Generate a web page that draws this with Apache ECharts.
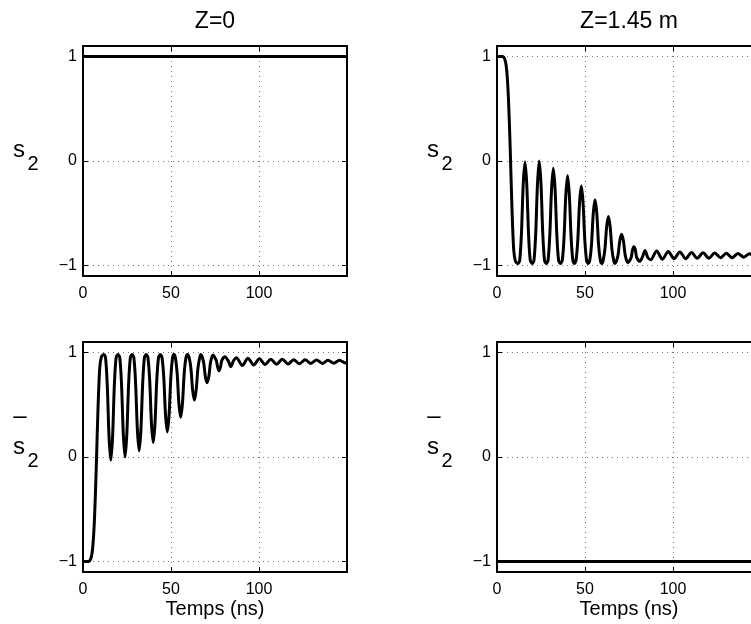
<!DOCTYPE html>
<html><head><meta charset="utf-8">
<script src="https://cdn.jsdelivr.net/npm/echarts@6/dist/echarts.min.js"></script>
<style>html,body{margin:0;padding:0;background:#fff}#c{width:751px;height:624px}</style>
</head><body><div id="c"></div>
<script>
// ---- data ----
const xTicks = [0, 50, 100];
const yTicks = [-1, 0, 1];
const titles = ['Z=0', 'Z=1.45 m'];
const xLabel = 'Temps (ns)';

// top-left : s2 at Z=0
const tTopLeft = [0, 150];
const s2TopLeft = [1, 1];

// top-right : s2 at Z=1.45 m
const tTopRight = [0, 3, 4.5, 5.5, 6.5, 7.5, 8.5, 9.5, 10.5, 11.9,
  12.9, 13.9, 14.9, 15.9, 16.9, 17.9, 18.9, 20.0,
  21.0, 22.0, 23.0, 24.0, 25.0, 26.0, 27.0, 28.0,
  29.0, 30.0, 31.0, 32.0, 33.0, 34.0, 35.0, 36.05,
  37.1, 38.1, 39.1, 40.1, 41.1, 42.1, 43.1, 44.0,
  44.9, 45.9, 46.9, 47.9, 48.9, 49.9, 50.9, 51.8,
  52.7, 53.7, 54.7, 55.7, 56.7, 57.7, 58.7, 59.5,
  60.3, 61.3, 62.3, 63.3, 64.3, 65.3, 66.3, 67.05,
  67.8, 68.8, 69.8, 70.8, 71.8, 72.8, 73.8, 74.3,
  75.3, 76.3, 77.0, 77.8, 78.6, 79.3, 80.3, 81.0,
  82.6, 84.1, 85.6, 87.4,
  90.7, 94.0, 97.3, 100.6, 103.9, 107.2, 110.5, 113.8, 117.1, 120.4,
  123.7, 127.0, 130.3, 133.6, 136.9, 140.2, 143.5, 146.8, 150];
const s2TopRight = [1.0, 1.0, 0.97, 0.87, 0.6, 0.12, -0.45, -0.85, -0.96, -0.98,
  -0.95, -0.69, -0.22, -0.01, -0.22, -0.69, -0.95, -0.98,
  -0.95, -0.69, -0.22, 0.0, -0.22, -0.69, -0.95, -0.98,
  -0.95, -0.707, -0.27, -0.07, -0.27, -0.707, -0.95, -0.98,
  -0.95, -0.728, -0.325, -0.14, -0.325, -0.728, -0.95, -0.98,
  -0.95, -0.758, -0.40, -0.24, -0.40, -0.758, -0.95, -0.98,
  -0.95, -0.797, -0.50, -0.37, -0.50, -0.797, -0.95, -0.98,
  -0.95, -0.845, -0.63, -0.53, -0.63, -0.845, -0.95, -0.98,
  -0.96, -0.896, -0.76, -0.70, -0.76, -0.896, -0.96, -0.97,
  -0.955, -0.92, -0.85, -0.82, -0.85, -0.92, -0.95, -0.96,
  -0.92, -0.855, -0.92, -0.945,
  -0.86, -0.94, -0.865, -0.935, -0.87, -0.935, -0.875, -0.93, -0.878, -0.93,
  -0.88, -0.925, -0.882, -0.925, -0.885, -0.92, -0.886, -0.92, -0.89];

// bottom-left : s2-bar at Z=0
const tBottomLeft = [0, 3, 4.5, 5.5, 6.5, 7.5, 8.5, 9.5, 10.5, 11.8,
  12.8, 13.8, 14.8, 15.8, 16.8, 17.8, 18.8, 19.85,
  20.9, 21.9, 22.9, 23.9, 24.9, 25.9, 26.9, 27.9,
  28.9, 29.9, 30.9, 31.9, 32.9, 33.9, 34.9, 35.9,
  36.9, 37.9, 38.9, 39.9, 40.9, 41.9, 42.9, 43.9,
  44.9, 45.9, 46.9, 47.9, 48.9, 49.9, 50.9, 51.7,
  52.5, 53.5, 54.5, 55.5, 56.5, 57.5, 58.5, 59.4,
  60.3, 61.3, 62.3, 63.3, 64.3, 65.3, 66.3, 66.9,
  67.7, 68.6, 69.5, 70.5, 71.5, 72.4, 73.3, 73.9,
  74.8, 75.8, 76.5, 77.3, 78.1, 78.8, 79.8, 80.6,
  82.5, 84.0, 85.5, 87.2,
  90.5, 93.7, 97.0, 100.2, 103.5, 106.7, 110.0, 113.2, 116.5, 119.7,
  123.0, 126.2, 129.5, 132.7, 136.0, 139.2, 142.5, 145.7, 149.0, 150];
const s2barBottomLeft = [-1.0, -1.0, -0.97, -0.87, -0.6, -0.12, 0.45, 0.85, 0.96, 0.98,
  0.95, 0.68, 0.19, -0.03, 0.19, 0.68, 0.95, 0.98,
  0.95, 0.69, 0.22, 0.0, 0.22, 0.69, 0.95, 0.98,
  0.95, 0.70, 0.26, 0.06, 0.26, 0.70, 0.95, 0.98,
  0.95, 0.73, 0.32, 0.14, 0.32, 0.73, 0.95, 0.98,
  0.95, 0.76, 0.40, 0.24, 0.40, 0.76, 0.95, 0.98,
  0.95, 0.80, 0.51, 0.38, 0.51, 0.80, 0.95, 0.98,
  0.95, 0.85, 0.64, 0.545, 0.64, 0.85, 0.95, 0.98,
  0.96, 0.90, 0.77, 0.71, 0.77, 0.90, 0.96, 0.975,
  0.955, 0.92, 0.86, 0.826, 0.86, 0.92, 0.95, 0.96,
  0.92, 0.864, 0.92, 0.95,
  0.875, 0.945, 0.88, 0.94, 0.885, 0.935, 0.888, 0.935, 0.89, 0.93,
  0.892, 0.93, 0.895, 0.928, 0.895, 0.925, 0.897, 0.925, 0.9, 0.905];

// bottom-right : s2-bar at Z=1.45 m
const tBottomRight = [0, 150];
const s2barBottomRight = [-1, -1];

// ---- layout ----
const FONT = '"Liberation Sans", Arial, Helvetica, sans-serif';
const grids = [
  {left: 83, top: 46, width: 264, height: 230, outerBoundsMode: 'none'},
  {left: 497, top: 46, width: 264, height: 230, outerBoundsMode: 'none'},
  {left: 83, top: 342, width: 264, height: 230, outerBoundsMode: 'none'},
  {left: 497, top: 342, width: 264, height: 230, outerBoundsMode: 'none'}
];
const fmtNum = v => String(v).replace('-', '\u2212');

const xAxes = [], yAxes = [];
grids.forEach((g, gi) => {
  ['bottom', 'top'].forEach(pos => {
    const main = pos === 'bottom';
    xAxes.push({
      type: 'value', gridIndex: gi, position: pos, min: 0, max: 150, interval: 50,
      axisLine: {show: true, onZero: false, lineStyle: {color: '#000', width: 2}},
      axisTick: {show: true, inside: true, length: 5, lineStyle: {color: '#000', width: 1}},
      axisLabel: {show: main, margin: 10, fontSize: 16, color: '#000', fontFamily: FONT,
        formatter: v => xTicks.includes(v) ? fmtNum(v) : ''},
      splitLine: {show: main, lineStyle: {color: '#777', type: [1, 4], width: 1}}
    });
  });
  ['left', 'right'].forEach(pos => {
    const main = pos === 'left';
    yAxes.push({
      type: 'value', gridIndex: gi, position: pos, min: -1.1, max: 1.1,
      axisLine: {show: true, onZero: false, lineStyle: {color: '#000', width: 2}},
      axisTick: {show: true, inside: true, length: 5, customValues: yTicks, lineStyle: {color: '#000', width: 1}},
      axisLabel: {show: main, margin: 6, fontSize: 16, color: '#000', fontFamily: FONT,
        customValues: yTicks, formatter: fmtNum},
      splitLine: {show: main, lineStyle: {color: '#777', type: [1, 4], width: 1}}
    });
  });
});

const zip = (t, v) => t.map((x, i) => [x, v[i]]);
const seriesData = [
  zip(tTopLeft, s2TopLeft),
  zip(tTopRight, s2TopRight),
  zip(tBottomLeft, s2barBottomLeft),
  zip(tBottomRight, s2barBottomRight)
];
const series = seriesData.map((d, gi) => ({
  type: 'line', xAxisIndex: gi * 2, yAxisIndex: gi * 2, data: d,
  showSymbol: false, smooth: 0.3, animation: false,
  lineStyle: {color: '#000', width: 3}, z: 3
}));

const txt = (text, x, y, size) => ({
  type: 'text', x: x, y: y, z: 10,
  style: {text: text, fontSize: size, fontFamily: FONT, fill: '#000', align: 'center', verticalAlign: 'middle'}
});
const graphic = [
  txt(titles[0], 215, 22, 23),
  txt(titles[1], 629, 22, 23),
  txt(xLabel, 215, 609, 20),
  txt(xLabel, 629, 609, 20)
];
[[0, 150], [414, 150]].forEach(([dx, cy]) => {
  graphic.push(txt('s', 19 + dx, cy, 24));
  graphic.push(txt('2', 33 + dx, cy + 14, 20));
});
[[0, 447], [414, 447]].forEach(([dx, cy]) => {
  graphic.push(txt('\u2013', 20 + dx, 416, 24));
  graphic.push(txt('s', 19 + dx, cy, 24));
  graphic.push(txt('2', 33 + dx, cy + 14, 20));
});

const chart = echarts.init(document.getElementById('c'), null, {renderer: 'canvas'});
chart.setOption({
  backgroundColor: '#fff', animation: false,
  grid: grids, xAxis: xAxes, yAxis: yAxes, series: series, graphic: graphic
});
</script></body></html>
